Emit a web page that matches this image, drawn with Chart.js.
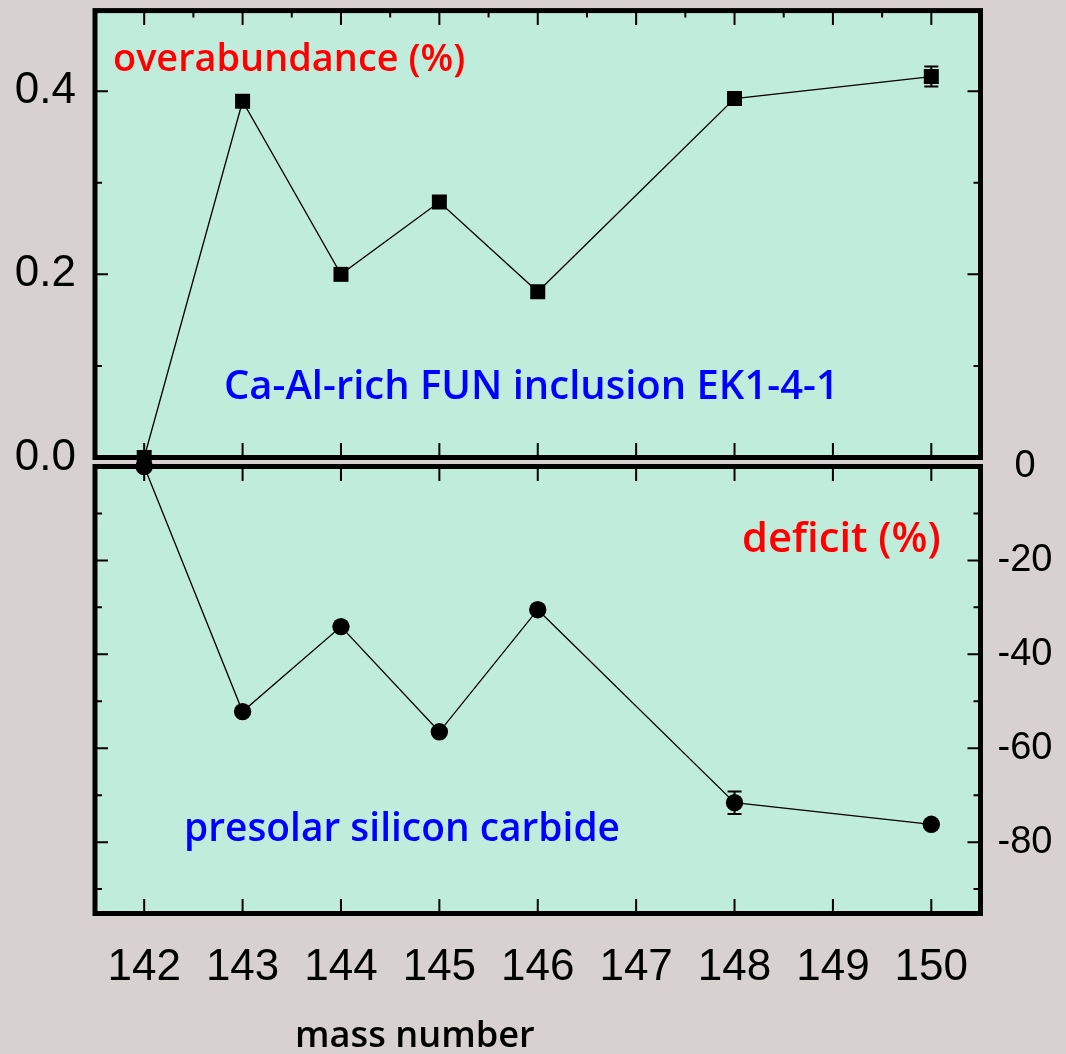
<!DOCTYPE html>
<html lang="en">
<head>
<meta charset="UTF-8">
<title>mass number</title>
<script src="https://cdn.jsdelivr.net/npm/chart.js"></script>
<style>
  body { margin: 0; background: #d8d1d1; }
  #wrap { position: relative; width: 1066px; height: 1054px; }
  canvas { position: absolute; left: 0; top: 0; }
</style>
</head>
<body>
<div id="wrap">
  <canvas id="topChart" width="1066" height="1054"></canvas>
  <canvas id="bottomChart" width="1066" height="1054"></canvas>
</div>
<script>
// isotope data
const massNumbers = [142, 143, 144, 145, 146, 148, 150];
const overabundance = [0.0, 0.389, 0.200, 0.279, 0.181, 0.392, 0.416];
const overabundanceErr = [0, 0, 0, 0, 0, 0, 0.011];
const deficit = [0, -52.2, -34.1, -56.5, -30.5, -71.6, -76.2];
const deficitErr = [0, 0, 0, 0, 0, 2.4, 0];

// axis ticks
const massTicks = [142, 143, 144, 145, 146, 147, 148, 149, 150];
const massHalfTicks = [142.5, 143.5, 144.5, 145.5, 146.5, 147.5, 148.5, 149.5];
const overTicks = [0.0, 0.2, 0.4];
const overMinorTicks = [0.1, 0.3];
const deficitTicks = [0, -20, -40, -60, -80];
const deficitMinorTicks = [-10, -30, -50, -70, -90];

const TEXT_FONT = "'Comic Sans MS', 'Open Sans', sans-serif";
const NUM_FONT = "'Liberation Sans', Arial, sans-serif";

function toPoints(ys) {
  return massNumbers.map((m, i) => ({ x: m, y: ys[i] }));
}

function drawFitted(ctx, lbl) {
  ctx.font = '600 100px ' + TEXT_FONT;
  const size = 100 * lbl.width / ctx.measureText(lbl.text).width;
  ctx.font = '600 ' + size.toFixed(1) + 'px ' + TEXT_FONT;
  ctx.fillStyle = lbl.color;
  ctx.textAlign = 'left';
  ctx.textBaseline = 'alphabetic';
  ctx.fillText(lbl.text, lbl.left, lbl.baseline);
}

// axes keep exactly the width/height given, no extra label padding
function fixSize(w, h) {
  return s => {
    if (w !== undefined) s.width = w;
    if (h !== undefined) s.height = h;
    s.paddingTop = s.paddingBottom = s.paddingLeft = s.paddingRight = 0;
  };
}

// panel fill, thick frame, inward ticks, error bars, text
const panelPlugin = {
  id: 'panel',
  beforeDraw(chart, args, opts) {
    const { ctx, chartArea: a } = chart;
    ctx.save();
    ctx.fillStyle = '#c0ecdc';
    ctx.fillRect(a.left, a.top, a.right - a.left, a.bottom - a.top);
    ctx.restore();
  },
  beforeDatasetsDraw(chart, args, opts) {
    const { ctx, chartArea: a, scales } = chart;
    const x = scales.x, y = scales.y;
    ctx.save();
    ctx.strokeStyle = '#000';
    ctx.lineWidth = 2;
    ctx.beginPath();
    massTicks.forEach(v => {
      const px = x.getPixelForValue(v);
      ctx.moveTo(px, a.top); ctx.lineTo(px, a.top + 14.5);
      ctx.moveTo(px, a.bottom); ctx.lineTo(px, a.bottom - 14.5);
    });
    if (opts.halfTicks) {
      massHalfTicks.forEach(v => {
        const px = x.getPixelForValue(v);
        ctx.moveTo(px, a.top); ctx.lineTo(px, a.top + 7);
      });
    }
    opts.yMajor.forEach(v => {
      const py = y.getPixelForValue(v);
      ctx.moveTo(a.left, py); ctx.lineTo(a.left + 13, py);
      ctx.moveTo(a.right, py); ctx.lineTo(a.right - 13, py);
    });
    opts.yMinor.forEach(v => {
      const py = y.getPixelForValue(v);
      ctx.moveTo(a.left, py); ctx.lineTo(a.left + 7, py);
      ctx.moveTo(a.right, py); ctx.lineTo(a.right - 7, py);
    });
    ctx.stroke();
    ctx.lineWidth = 5;
    ctx.strokeRect(a.left, a.top, a.right - a.left, a.bottom - a.top);
    ctx.restore();
  },
  afterDatasetsDraw(chart, args, opts) {
    const { ctx, scales } = chart;
    ctx.save();
    ctx.strokeStyle = '#000';
    ctx.lineWidth = 2;
    chart.data.datasets.forEach((ds, i) => {
      const meta = chart.getDatasetMeta(i);
      ds.errors.forEach((e, j) => {
        if (!e) return;
        const px = meta.data[j].x;
        const y1 = scales.y.getPixelForValue(ds.data[j].y + e);
        const y2 = scales.y.getPixelForValue(ds.data[j].y - e);
        ctx.beginPath();
        ctx.moveTo(px, y1); ctx.lineTo(px, y2);
        ctx.moveTo(px - 7, y1); ctx.lineTo(px + 7, y1);
        ctx.moveTo(px - 7, y2); ctx.lineTo(px + 7, y2);
        ctx.stroke();
      });
    });
    ctx.restore();
  },
  afterDraw(chart, args, opts) {
    const ctx = chart.ctx;
    ctx.save();
    opts.labels.forEach(l => drawFitted(ctx, l));
    ctx.restore();
  }
};

Chart.register(panelPlugin);

const xScale = (extra) => Object.assign({
  type: 'linear',
  min: 141.5,
  max: 150.5,
  afterBuildTicks: s => { s.ticks = massTicks.map(v => ({ value: v })); },
  grid: { display: false },
  border: { display: false }
}, extra);

// upper panel: Ca-Al-rich inclusion
new Chart(document.getElementById('topChart'), {
  type: 'line',
  data: {
    datasets: [{
      data: toPoints(overabundance),
      errors: overabundanceErr,
      borderColor: '#000',
      borderWidth: 1.3,
      pointStyle: 'rect',
      pointRadius: 10.6,
      pointBackgroundColor: '#000',
      pointBorderWidth: 0,
      clip: false
    }]
  },
  options: {
    responsive: false,
    animation: false,
    layout: { padding: { top: 10, right: 85.5, bottom: 596.5, left: 0 } },
    plugins: {
      legend: { display: false },
      tooltip: { enabled: false },
      panel: {
        halfTicks: true,
        yMajor: overTicks,
        yMinor: overMinorTicks,
        labels: [
          { text: 'overabundance (%)', color: '#ff0000', left: 113, baseline: 71, width: 352 },
          { text: 'Ca-Al-rich FUN inclusion EK1-4-1', color: '#0000ff', left: 224, baseline: 399, width: 615 }
        ]
      }
    },
    scales: {
      x: xScale({ display: false }),
      y: {
        type: 'linear',
        position: 'left',
        min: 0,
        max: 0.488,
        afterBuildTicks: s => { s.ticks = overTicks.map(v => ({ value: v })); },
        afterFit: fixSize(95),
        grid: { display: false, drawTicks: false },
        border: { display: false },
        ticks: {
          padding: 19,
          color: '#000',
          font: { family: NUM_FONT, size: 44 },
          callback: v => v.toFixed(1)
        }
      }
    }
  }
});

// lower panel: presolar SiC grains
new Chart(document.getElementById('bottomChart'), {
  type: 'line',
  data: {
    datasets: [{
      data: toPoints(deficit),
      errors: deficitErr,
      borderColor: '#000',
      borderWidth: 1.3,
      pointStyle: 'circle',
      pointRadius: 8.7,
      pointBackgroundColor: '#000',
      pointBorderWidth: 0,
      clip: false
    }]
  },
  options: {
    responsive: false,
    animation: false,
    layout: { padding: { top: 466.5, right: 0, bottom: 0, left: 95 } },
    plugins: {
      legend: { display: false },
      tooltip: { enabled: false },
      panel: {
        halfTicks: false,
        yMajor: deficitTicks,
        yMinor: deficitMinorTicks,
        labels: [
          { text: 'deficit (%)', color: '#ff0000', left: 742, baseline: 552, width: 199 },
          { text: 'presolar silicon carbide', color: '#0000ff', left: 184, baseline: 841, width: 436 },
          { text: 'mass number', color: '#000', left: 295, baseline: 1047, width: 240 }
        ]
      }
    },
    scales: {
      x: xScale({
        position: 'bottom',
        afterFit: fixSize(undefined, 140.5),
        ticks: {
          padding: 20,
          autoSkip: false,
          maxRotation: 0,
          color: '#000',
          font: { family: NUM_FONT, size: 44 },
          callback: v => String(v)
        }
      }),
      y: {
        type: 'linear',
        position: 'right',
        min: -95.2,
        max: 0,
        afterBuildTicks: s => { s.ticks = deficitTicks.map(v => ({ value: v })); },
        afterFit: fixSize(85.5),
        grid: { display: false, drawTicks: false },
        border: { display: false },
        ticks: {
          padding: 17,
          crossAlign: 'center',
          color: '#000',
          font: { family: NUM_FONT, size: 38 }
        }
      }
    }
  }
});
</script>
</body>
</html>
